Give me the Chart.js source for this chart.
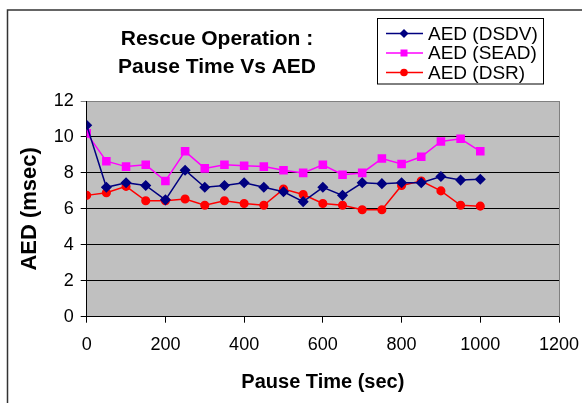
<!DOCTYPE html>
<html>
<head>
<meta charset="utf-8">
<script src="https://cdn.jsdelivr.net/npm/chart.js@4/dist/chart.umd.min.js"></script>
<style>
  body { margin: 0; background: #fff; }
  canvas { display: block; }
</style>
</head>
<body>
<canvas id="aedChart" width="582" height="403"></canvas>
<script>
var pauseTimes = [0, 50, 100, 150, 200, 250, 300, 350, 400, 450, 500, 550, 600, 650, 700, 750, 800, 850, 900, 950, 1000];

var aedDSDV = [10.65, 7.2, 7.45, 7.3, 6.5, 8.15, 7.2, 7.3, 7.45, 7.2, 6.95, 6.4, 7.2, 6.75, 7.45, 7.4, 7.45, 7.45, 7.8, 7.6, 7.65];
var aedSEAD = [10.2, 8.65, 8.35, 8.45, 7.55, 9.2, 8.25, 8.45, 8.4, 8.35, 8.15, 8.0, 8.45, 7.9, 8.0, 8.8, 8.5, 8.9, 9.75, 9.9, 9.2];
var aedDSR = [6.75, 6.9, 7.25, 6.45, 6.45, 6.55, 6.2, 6.45, 6.3, 6.2, 7.1, 6.8, 6.3, 6.2, 5.95, 5.95, 7.3, 7.55, 7.0, 6.2, 6.15];

var titleLines = ["Rescue Operation :", "Pause Time Vs AED"];

var FONT = "'Liberation Sans', Arial, sans-serif";

function toPoints(vals) {
  return vals.map(function (v, i) { return { x: pauseTimes[i], y: v }; });
}

// grey plot background, frame, title and legend
var decorations = {
  id: 'decorations',
  beforeDraw: function (chart) {
    var ctx = chart.ctx, a = chart.chartArea;
    ctx.save();
    ctx.fillStyle = '#c0c0c0';
    ctx.fillRect(a.left, a.top, a.right - a.left, a.bottom - a.top);
    ctx.restore();
  },
  beforeDatasetsDraw: function (chart) {
    var ctx = chart.ctx, a = chart.chartArea;
    ctx.save();
    ctx.strokeStyle = '#808080';
    ctx.lineWidth = 1;
    ctx.beginPath();
    ctx.moveTo(a.right + 0.5, a.top);
    ctx.lineTo(a.right + 0.5, a.bottom);
    ctx.stroke();
    ctx.restore();
  },
  afterDraw: function (chart) {
    var ctx = chart.ctx;
    ctx.save();
    // outer frame
    ctx.strokeStyle = '#333';
    ctx.lineWidth = 1.5;
    ctx.strokeRect(7.5, 10, 700, 700);

    // title
    ctx.fillStyle = '#000';
    ctx.font = 'bold 21px ' + FONT;
    ctx.textAlign = 'center';
    ctx.textBaseline = 'alphabetic';
    ctx.fillText(titleLines[0], 217, 45);
    ctx.fillText(titleLines[1], 217, 72.5);

    // legend box
    ctx.lineWidth = 1;
    ctx.strokeStyle = '#000';
    ctx.fillStyle = '#fff';
    ctx.fillRect(377.5, 18.5, 166, 65.5);
    ctx.strokeRect(377.5, 18.5, 166, 65.5);

    var rows = [33.5, 53, 72.5];
    chart.data.datasets.forEach(function (ds, i) {
      var y = rows[i];
      ctx.strokeStyle = ds.borderColor;
      ctx.lineWidth = 1.5;
      ctx.beginPath();
      ctx.moveTo(386, y);
      ctx.lineTo(423, y);
      ctx.stroke();
      ctx.fillStyle = ds.pointBackgroundColor;
      ctx.beginPath();
      if (ds.pointStyle === 'rectRot') {
        ctx.moveTo(404, y - 4.5); ctx.lineTo(408.5, y); ctx.lineTo(404, y + 4.5); ctx.lineTo(399.5, y);
        ctx.closePath();
      } else if (ds.pointStyle === 'rect') {
        ctx.rect(400.5, y - 3.5, 7, 7);
      } else {
        ctx.arc(404, y, 3.8, 0, Math.PI * 2);
      }
      ctx.fill();
      ctx.fillStyle = '#000';
      ctx.font = '19px ' + FONT;
      ctx.textAlign = 'left';
      ctx.textBaseline = 'middle';
      ctx.fillText(ds.label, 428, y + 1);
    });
    ctx.restore();
  }
};

var ctx = document.getElementById('aedChart').getContext('2d');

new Chart(ctx, {
  type: 'line',
  data: {
    datasets: [{
      label: 'AED (DSDV)',
      data: toPoints(aedDSDV),
      borderColor: '#000080',
      backgroundColor: '#000080',
      pointBackgroundColor: '#000080',
      pointBorderColor: '#000080',
      pointStyle: 'rectRot',
      pointRadius: 4.5,
      borderWidth: 1.5,
      tension: 0
    }, {
      label: 'AED (SEAD)',
      data: toPoints(aedSEAD),
      borderColor: '#ff00ff',
      backgroundColor: '#ff00ff',
      pointBackgroundColor: '#ff00ff',
      pointBorderColor: '#ff00ff',
      pointStyle: 'rect',
      pointRadius: 5,
      borderWidth: 1.5,
      tension: 0
    }, {
      label: 'AED (DSR)',
      data: toPoints(aedDSR),
      borderColor: '#ff0000',
      backgroundColor: '#ff0000',
      pointBackgroundColor: '#ff0000',
      pointBorderColor: '#ff0000',
      pointStyle: 'circle',
      pointRadius: 3.8,
      borderWidth: 1.5,
      tension: 0
    }]
  },
  options: {
    responsive: false,
    animation: false,
    layout: { padding: { left: 0, top: 101, right: 23, bottom: 0 } },
    plugins: {
      legend: { display: false },
      title: { display: false },
      tooltip: { enabled: false }
    },
    scales: {
      x: {
        type: 'linear',
        min: 0,
        max: 1200,
        ticks: {
          stepSize: 200, padding: 12, color: '#000',
          font: { family: FONT, size: 18 },
          callback: function (v) { return String(v); }
        },
        grid: { drawOnChartArea: false, drawTicks: true, tickLength: 6, color: '#000' },
        border: { color: '#000', width: 1 },
        title: {
          display: true,
          text: 'Pause Time (sec)',
          color: '#000',
          font: { family: FONT, size: 20, weight: 'bold' },
          padding: { top: 0, bottom: 9 }
        },
        afterFit: function (axis) {
          axis.height = 403 - 316.7;
          axis.paddingRight = 0;
        }
      },
      y: {
        min: 0,
        max: 12,
        ticks: { stepSize: 2, padding: 7, color: '#000', font: { family: FONT, size: 18 } },
        grid: {
          tickLength: 6,
          color: function (c) { return c.tick && c.tick.value === 12 ? '#808080' : '#000'; }
        },
        border: { color: '#000', width: 1 },
        title: {
          display: true,
          text: 'AED (msec)',
          color: '#000',
          font: { family: FONT, size: 22, weight: 'bold' },
          padding: { top: 17, bottom: 0 }
        },
        afterFit: function (axis) { axis.width = 86.7; }
      }
    }
  },
  plugins: [decorations]
});
</script>
</body>
</html>
